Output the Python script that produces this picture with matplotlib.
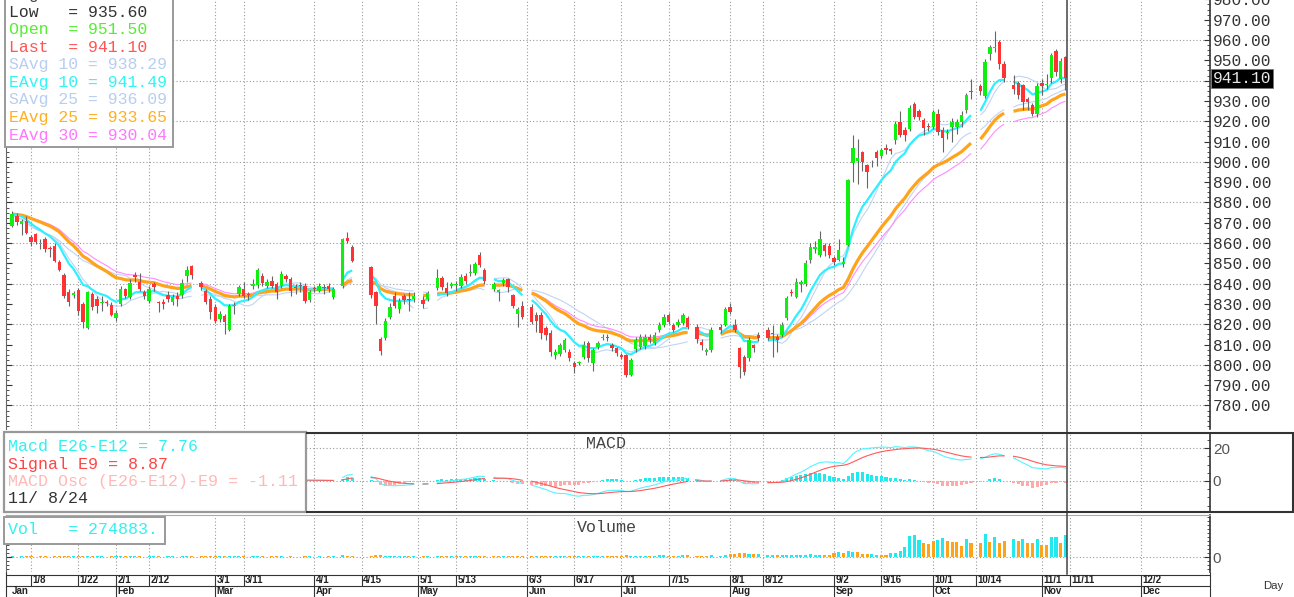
import matplotlib
matplotlib.use("Agg")
import matplotlib.pyplot as plt
import matplotlib.transforms as mtrans
from matplotlib.patches import Rectangle
from matplotlib.ticker import MultipleLocator, FixedLocator
import numpy as np
import pandas as pd

plt.rcParams["font.family"] = ["Liberation Mono", "DejaVu Sans Mono"]

# Daily bars, one slot per weekday starting Tue 2 Jan 2024 (None = no bar drawn)
opens = [
    868.5, 873.4, 869.3, 871.0, 862.8, 864.4, 859.5, 862.0, 857.3, 858.7,
    850.5, 844.4, 835.7, 834.5, 836.9, 830.0, 818.0, 834.9, 832.4, 830.5,
    830.8, 829.5, 823.0, 830.0, 837.4, 833.3, 844.4, 840.7, 835.7, 831.6,
    839.7, 831.0, 831.0, 834.4, 830.8, 834.1, 834.4, 843.9, 848.5, None,
    840.3, 836.6, 832.4, 828.3, 822.5, 824.3, 817.0, 829.0, 835.0, 837.4,
    835.0, 838.7, 839.3, 843.9, 839.0, 841.5, 839.8, 839.0, 843.9, 842.3,
    838.0, 839.3, 839.0, 832.0, 837.7, 836.6, 838.2, 839.0, 833.3, None,
    839.0, 862.3, 857.9, None, None, None, 848.0, 835.7, 812.8, 813.1,
    823.4, 834.1, 827.5, 834.1, 832.5, 832.4, None, 832.1, 832.4, None,
    837.7, 842.6, 837.7, 839.0, 839.3, 839.0, 843.9, 845.3, 845.3, 854.3,
    846.9, None, 837.4, 836.0, 840.5, 842.3, 834.4, 825.1, 829.2, None,
    828.5, 824.5, 824.5, 818.0, 815.5, 804.8, 805.3, 807.3, 806.5, 800.7,
    800.7, 804.0, 810.6, 801.0, 809.0, 813.0, 813.6, 809.8, 808.1, 804.8,
    804.8, 795.0, 808.0, 809.0, 809.3, 813.9, 810.6, 817.1, 819.6, 824.5,
    819.6, 819.6, 820.4, 822.9, None, 818.8, 811.4, 806.5, 807.3, None,
    818.8, 819.6, 828.6, 819.6, 808.1, 804.0, 803.2, 809.8, 814.7, None,
    817.1, 815.6, 813.9, 814.7, 822.9, 836.0, 833.6, 839.6, 840.0, 851.6,
    856.9, 854.0, 859.0, 858.5, 852.4, 851.6, 849.5, 859.0, 899.2, 900.4,
    904.7, 898.4, 899.2, 904.7, 903.0, 907.0, 906.3, 910.7, 919.8, 915.7,
    916.2, 928.3, 925.0, 920.6, 917.5, 917.3, 923.4, 915.7, 914.0, 917.3,
    917.3, 919.8, 925.5, 935.0, None, 937.3, 932.6, 952.9, 956.3, 959.0,
    948.0, None, 937.8, 938.6, 937.8, 931.0, 928.0, 923.4, 939.0, 938.0,
    941.1, 954.6, 940.8, 951.5,
]
highs = [
    876.0, 874.8, 872.0, 873.4, 864.0, 865.0, 862.0, 863.0, 858.7, 860.0,
    851.5, 845.0, 837.4, 836.5, 838.0, 831.0, 836.5, 836.0, 834.0, 834.0,
    832.0, 831.0, 827.0, 839.0, 838.0, 842.3, 845.6, 845.3, 837.0, 839.0,
    841.0, 831.5, 832.4, 836.5, 835.0, 835.7, 842.3, 848.5, 849.2, None,
    841.5, 837.4, 834.0, 830.0, 826.7, 825.0, 830.0, 831.0, 839.3, 840.7,
    836.0, 842.3, 847.5, 845.0, 842.3, 843.9, 841.0, 846.0, 844.7, 843.1,
    840.0, 841.0, 840.3, 837.0, 839.0, 840.3, 839.8, 840.3, 838.5, None,
    862.5, 865.2, 859.0, None, None, None, 848.5, 836.5, 813.5, 823.0,
    830.5, 835.7, 833.0, 835.0, 835.7, 835.7, None, 834.1, 836.6, None,
    847.2, 843.9, 840.7, 841.0, 841.5, 844.7, 845.3, 849.7, 850.5, 855.4,
    847.5, None, 840.7, 837.5, 843.0, 843.0, 835.0, 828.5, 831.6, None,
    830.0, 826.0, 826.0, 819.0, 817.0, 808.0, 811.0, 813.0, 808.0, 802.0,
    802.0, 811.5, 811.5, 808.5, 811.5, 815.0, 815.0, 811.0, 809.0, 806.0,
    805.5, 803.5, 813.5, 815.0, 815.0, 815.0, 816.0, 821.0, 825.0, 825.5,
    820.5, 822.5, 825.5, 824.0, None, 820.0, 812.5, 808.5, 818.5, None,
    820.0, 828.5, 830.5, 822.5, 809.0, 805.0, 813.5, 810.5, 816.0, None,
    818.5, 819.6, 815.0, 821.0, 834.0, 837.5, 843.0, 842.0, 851.5, 860.0,
    861.0, 866.0, 860.0, 860.0, 853.5, 862.0, 853.0, 891.5, 913.0, 911.0,
    905.5, 899.0, 901.0, 906.0, 907.0, 909.0, 907.0, 920.0, 925.0, 917.0,
    928.0, 929.5, 926.0, 921.5, 919.0, 925.5, 926.0, 917.0, 916.0, 921.5,
    921.0, 925.0, 934.0, 941.0, None, 938.5, 950.5, 957.5, 964.5, 960.0,
    949.5, None, 943.0, 940.0, 938.5, 932.0, 929.0, 938.7, 941.0, 943.5,
    953.5, 955.5, 951.0, 952.0,
]
lows = [
    867.7, 869.0, 864.0, 864.5, 858.7, 859.5, 857.0, 855.5, 853.0, 850.5,
    846.0, 833.0, 829.0, 833.0, 824.5, 818.0, 817.5, 827.0, 825.5, 826.5,
    829.0, 824.0, 821.8, 829.0, 833.0, 832.5, 841.0, 836.5, 832.5, 830.5,
    836.5, 826.0, 827.5, 831.0, 829.5, 829.0, 833.0, 841.0, 842.3, None,
    837.0, 830.0, 822.5, 820.5, 821.0, 815.0, 816.5, 825.0, 834.0, 833.0,
    832.0, 837.5, 838.0, 839.0, 838.0, 838.0, 832.5, 838.0, 841.0, 834.0,
    835.0, 836.0, 830.5, 831.0, 835.7, 835.7, 835.0, 836.0, 832.5, None,
    838.0, 860.0, 850.8, None, None, None, 833.0, 820.0, 805.0, 812.0,
    822.5, 828.0, 825.5, 830.0, 826.7, 831.0, None, 828.0, 831.5, None,
    837.0, 837.0, 834.0, 838.0, 836.5, 838.0, 840.0, 843.9, 844.4, 848.0,
    839.8, None, 836.6, 831.6, 839.0, 836.0, 828.0, 818.5, 822.5, None,
    820.0, 816.0, 812.5, 812.2, 804.5, 803.0, 804.5, 806.5, 802.0, 796.1,
    800.0, 803.0, 801.5, 797.0, 808.0, 812.0, 811.5, 807.0, 804.5, 803.0,
    794.0, 794.5, 806.5, 808.0, 808.0, 811.0, 810.0, 816.0, 818.5, 820.0,
    816.0, 818.5, 819.5, 817.5, None, 811.0, 807.5, 805.0, 806.5, None,
    815.5, 819.0, 825.0, 816.0, 793.5, 795.0, 802.0, 806.5, 811.5, None,
    812.0, 804.0, 806.5, 813.5, 822.0, 834.0, 833.0, 836.0, 839.0, 850.0,
    855.0, 853.0, 853.5, 852.5, 849.0, 851.0, 848.0, 858.5, 890.0, 889.0,
    895.5, 887.0, 897.5, 898.0, 902.0, 904.0, 904.0, 909.0, 912.0, 910.5,
    915.0, 921.0, 920.5, 913.0, 915.0, 916.0, 913.0, 905.0, 911.0, 910.0,
    913.5, 917.0, 924.0, 931.0, None, 933.0, 931.5, 950.0, 954.0, 945.5,
    939.5, None, 933.5, 931.0, 925.5, 925.5, 922.5, 922.0, 933.0, 936.0,
    939.0, 942.5, 939.0, 935.6,
]
closes = [
    874.3, 870.2, 871.0, 865.0, 860.3, 860.3, 860.0, 857.0, 857.0, 851.3,
    846.9, 834.1, 831.1, 835.2, 826.7, 821.0, 835.7, 828.7, 828.9, 831.2,
    830.5, 824.6, 825.6, 837.4, 834.1, 840.3, 843.1, 837.4, 834.1, 837.4,
    838.2, 830.5, 830.0, 832.4, 833.3, 832.4, 840.3, 846.9, 844.2, None,
    838.2, 830.8, 825.9, 821.8, 825.0, 821.0, 829.2, 829.5, 838.2, 834.1,
    834.4, 839.8, 846.9, 840.3, 841.0, 839.0, 835.7, 844.7, 842.3, 836.6,
    837.7, 839.0, 831.6, 835.7, 837.4, 839.0, 838.0, 837.4, 837.4, None,
    862.0, 861.1, 851.3, None, None, None, 834.4, 829.2, 806.6, 821.8,
    828.3, 829.2, 831.6, 832.1, 832.0, 834.1, None, 830.0, 835.2, None,
    842.6, 838.2, 835.2, 839.8, 839.6, 843.1, 841.5, 845.5, 849.7, 849.2,
    841.5, None, 839.8, 837.0, 841.8, 838.5, 828.9, 827.5, 823.6, None,
    821.0, 821.8, 815.5, 814.5, 806.5, 806.5, 809.8, 812.2, 803.2, 799.0,
    801.2, 809.8, 803.2, 807.3, 810.6, 813.9, 813.4, 808.1, 805.6, 804.0,
    795.0, 802.4, 812.0, 813.5, 813.5, 812.2, 814.7, 819.6, 823.4, 821.3,
    817.1, 821.3, 824.5, 818.5, None, 812.5, 809.8, 807.3, 817.1, None,
    817.1, 827.3, 826.2, 817.1, 799.1, 796.6, 812.2, 808.1, 813.0, None,
    813.0, 815.4, 812.2, 819.6, 832.7, 835.2, 841.0, 841.0, 850.2, 858.2,
    858.2, 861.8, 856.1, 854.1, 850.5, 856.6, 850.8, 891.0, 907.0, 902.0,
    900.1, 894.8, 899.5, 902.0, 905.8, 905.8, 905.3, 918.5, 913.2, 913.2,
    926.7, 922.2, 922.2, 916.5, 917.2, 924.7, 914.5, 911.6, 914.8, 919.8,
    919.8, 923.0, 932.9, 934.2, None, 934.9, 949.0, 956.7, 956.7, 948.0,
    941.1, None, 935.8, 932.9, 929.3, 929.3, 923.4, 937.5, 937.3, 938.5,
    952.6, 944.4, 949.7, 941.1,
]
volumes = [
    11000, 9000, 10000, 12000, 10000, 9000, 11000, 10000, 9000, 12000,
    11000, 14000, 12000, 10000, 13000, 15000, 16000, 12000, 11000, 10000,
    9000, 12000, 11000, 13000, 10000, 12000, 11000, 10000, 9000, 11000,
    10000, 12000, 9000, 10000, 11000, 9000, 13000, 14000, 12000, None,
    11000, 12000, 13000, 14000, 10000, 12000, 15000, 11000, 13000, 10000,
    9000, 11000, 12000, 10000, 9000, 10000, 11000, 12000, 9000, 11000,
    9000, 8000, 12000, 10000, 9000, 10000, 9000, 10000, 11000, None,
    26000, 20000, 18000, None, None, None, 22000, 25000, 28000, 20000,
    18000, 15000, 14000, 12000, 13000, 12000, None, 11000, 12000, None,
    15000, 13000, 12000, 11000, 10000, 13000, 12000, 14000, 15000, 16000,
    17000, None, 14000, 13000, 12000, 15000, 13000, 16000, 18000, None,
    17000, 15000, 18000, 16000, 20000, 17000, 15000, 16000, 19000, 18000,
    16000, 17000, 19000, 20000, 16000, 15000, 14000, 17000, 18000, 20000,
    24000, 22000, 18000, 20000, 21000, 19000, 22000, 24000, 23000, 21000,
    22000, 20000, 23000, 24000, None, 22000, 21000, 19000, 25000, None,
    22000, 26000, 38000, 45000, 52000, 48000, 44000, 40000, 35000, None,
    30000, 33000, 29000, 31000, 34000, 30000, 32000, 28000, 33000, 35000,
    30000, 34000, 31000, 29000, 55000, 60000, 52000, 72000, 68000, 62000,
    40000, 38000, 36000, 34000, 28000, 28000, 49000, 57000, 78000, 131000,
    263000, 275000, 213000, 180000, 160000, 201000, 213000, 234000, 201000, 192000,
    185000, 139000, 222000, 173000, None, 173000, 287000, 185000, 247000, 180000,
    201000, None, 222000, 205000, 222000, 180000, 173000, 222000, 152000, 152000,
    247000, 247000, 173000, 274883,
]
# colour of the last volume bars (c = cyan, o = orange)
vol_tail_colors = "ooccccccc" "ooocc" "ooooco" "ococoo" "cocooc" "ooccoc"

tick_labels = ["1/8", "1/22", "2/1", "2/12", "3/1", "3/11", "4/1", "4/15", "5/1", "5/13",
               "6/3", "6/17", "7/1", "7/15", "8/1", "8/12", "9/2", "9/16", "10/1", "10/14",
               "11/1", "11/11", "12/2"]
month_labels = ["Jan", "Feb", "Mar", "Apr", "May", "Jun", "Jul", "Aug", "Sep", "Oct", "Nov", "Dec"]
month_starts = ["1/2", "2/1", "3/1", "4/1", "5/1", "6/3", "7/1", "8/1", "9/2", "10/1", "11/1", "12/2"]

readout = [("High  = 952.00", "#444444"), ("Low   = 935.60", "#333333"),
           ("Open  = 951.50", "#55ee33"), ("Last  = 941.10", "#ff5555"),
           ("SAvg 10 = 938.29", "#b8cef0"), ("EAvg 10 = 941.49", "#33f4f4"),
           ("SAvg 25 = 936.09", "#b8cef0"), ("EAvg 25 = 933.65", "#ffb020"),
           ("EAvg 30 = 930.04", "#ff77ff")]
macd_readout = [("Macd E26-E12 = 7.76", "#33f0f0"), ("Signal E9 = 8.87", "#ff4444"),
                ("MACD Osc (E26-E12)-E9 = -1.11", "#ffb8b8"), ("11/ 8/24", "#333333")]
vol_readout = "Vol   = 274883."

# ---------------------------------------------------------------------------
wk = pd.bdate_range("2024-01-01", "2024-12-31")
def slot(md):
    return wk.get_loc(pd.Timestamp(f"{md}/2024"))

idx = np.arange(1, len(closes) + 1)
df = pd.DataFrame({"o": opens, "h": highs, "l": lows, "c": closes, "v": volumes},
                  index=idx, dtype=float)
tr = df.dropna()
c = tr["c"]
mas = {
    "s10": c.rolling(10, min_periods=1).mean(),
    "s25": c.rolling(25, min_periods=1).mean(),
    "e10": c.ewm(span=10, adjust=False).mean(),
    "e25": c.ewm(span=25, adjust=False).mean(),
    "e30": c.ewm(span=30, adjust=False).mean(),
}
macd = c.ewm(span=12, adjust=False).mean() - c.ewm(span=26, adjust=False).mean()
signal = macd.ewm(span=9, adjust=False).mean()
osc = macd - signal

W, H = 1294, 597
fig = plt.figure(figsize=(W / 100, H / 100), dpi=100, facecolor="white")

def box(x0, y0, x1, y1):
    return [x0 / W, 1 - y1 / H, (x1 - x0) / W, (y1 - y0) / H]

xl = ((6 - 7.38) / 4.7236, (1210 - 7.38) / 4.7236)
ax = fig.add_axes(box(6, -0.6, 1210, 429))
axm = fig.add_axes(box(6, 433, 1210, 512))
axv = fig.add_axes(box(6, 515, 1210, 572))

grid_kw = dict(color="#999999", lw=0.8, ls=(0, (1, 2)), zorder=0)
tick_x = [slot(t) for t in tick_labels]
for a in (ax, axm, axv):
    a.set_xlim(*xl)
    a.set_xticks([])
    for s in ("top", "bottom"):
        a.spines[s].set_visible(False)
    a.spines["right"].set_color("#333333")
    a.spines["right"].set_linewidth(1.2)
    a.spines["left"].set_color("#666666")
    for x in tick_x:
        a.axvline(x, **grid_kw)
    a.tick_params(axis="y", which="both", direction="in", left=True, right=True,
                  labelleft=False, labelright=True, colors="#333333", pad=2)
    a.tick_params(axis="y", which="major", length=4)
    a.tick_params(axis="y", which="minor", length=2.5)

# ---- price panel ----
ax.set_ylim(768.4, 980.0)
for y in range(780, 980, 20):
    ax.axhline(y, **grid_kw)
ax.yaxis.set_major_locator(FixedLocator(np.arange(780, 981, 10)))
ax.yaxis.set_minor_locator(MultipleLocator(2.5))
ax.yaxis.set_major_formatter(lambda v, p: "" if abs(v - 940) < 0.1 else f"{v:.2f}")
for t in ax.get_yticklabels():
    t.set_fontsize(11.7)

styles = [("s25", "#c0d4f4", 0.8), ("s10", "#c0d4f4", 0.8), ("e30", "#ff8cff", 0.8),
          ("e25", "#ffa31a", 2.3), ("e10", "#2ef0ff", 1.6)]
for key, col, lw in styles:
    ax.plot(idx, mas[key].reindex(idx), color=col, lw=lw, zorder=2, solid_capstyle="butt")

up = tr["c"] >= tr["o"]
ax.vlines(tr.index, tr["l"], tr["h"], color="#666666", lw=0.8, zorder=3)
body = (tr["c"] - tr["o"]).abs().clip(lower=0.4)
ax.bar(tr.index, body, bottom=tr[["o", "c"]].min(axis=1), width=0.72,
       color=np.where(up, "#11ee11", "#ff3333"), zorder=4)

ax.text(1 + 2.5 / 1204, tr["c"].iloc[-1], f"{tr['c'].iloc[-1]:.2f}",
        transform=mtrans.blended_transform_factory(ax.transAxes, ax.transData),
        color="#e8e8e8", fontsize=11.7, va="center", ha="left", clip_on=False, zorder=10,
        bbox=dict(boxstyle="square,pad=0.12", fc="black", ec="#777777", lw=0.6))

# ---- MACD panel ----
axm.set_ylim(-18.8, 29.1)
for y in (0, 20):
    axm.axhline(y, **grid_kw)
axm.bar(osc.index, osc, width=0.65, color=np.where(osc >= 0, "#22e8f0", "#ffaaaa"), zorder=2)
axm.plot(idx, macd.reindex(idx), color="#55f4ff", lw=0.8, zorder=3)
axm.plot(idx, signal.reindex(idx), color="#ff5a5a", lw=0.8, zorder=3)
axm.yaxis.set_major_locator(FixedLocator([0, 20]))
axm.yaxis.set_minor_locator(MultipleLocator(5))
for t in axm.get_yticklabels():
    t.set_fontfamily("Liberation Sans")
    t.set_fontsize(11)
    t.set_color("#555555")

# ---- volume panel ----
axv.set_ylim(-181000, 521000)
axv.axhline(0, **grid_kw)
vcol = np.where(tr["c"].diff().fillna(0) >= 0, "#22e8f0", "#ffa31a").astype(object)
tail = [("#22e8f0" if ch == "c" else "#ffa31a") for ch in vol_tail_colors]
vcol[-len(tail):] = tail
axv.bar(tr.index, tr["v"], width=0.65, color=list(vcol), zorder=2)
axv.yaxis.set_major_locator(FixedLocator([0]))
axv.yaxis.set_minor_locator(MultipleLocator(50000))
axv.spines["top"].set_visible(True)
axv.spines["top"].set_color("#aaaaaa")
for t in axv.get_yticklabels():
    t.set_fontfamily("Liberation Sans")
    t.set_fontsize(11)
    t.set_color("#555555")

# ---- overlay in pixel coordinates: readouts, frames, date axis ----
ov = fig.add_axes([0, 0, 1, 1])
ov.set_xlim(0, W)
ov.set_ylim(H, 0)
ov.axis("off")

def px(i):
    return 7.38 + 4.7236 * i

ov.plot([px(224.3)] * 2, [0, 574], color="#444444", lw=1.1)

ov.add_patch(Rectangle((5, -12), 168, 159, fc="white", ec="#999999", lw=1.4))
for k, (s, col) in enumerate(readout):
    ov.text(9, -5.2 + 17.53 * k, s, color=col, fontsize=11.9, va="center", ha="left")

ov.add_patch(Rectangle((3.5, 432), 302.5, 80, fc="white", ec="#999999", lw=1.6))
for k, (s, col) in enumerate(macd_readout):
    ov.text(8.3, 446.7 + 17.4 * k, s, color=col, fontsize=12, va="center", ha="left")
for xs, ys in (([306, 1293], [432.8, 432.8]), ([306, 1293], [512, 512]),
               ([1292.5, 1292.5], [432, 512.5])):
    ov.plot(xs, ys, color="#333333", lw=1.5, solid_capstyle="butt")
ov.text(606, 443, "MACD", color="#444444", fontsize=12, ha="center", va="center")

ov.add_patch(Rectangle((3.5, 516.5), 161.5, 27, fc="white", ec="#999999", lw=1.4))
ov.text(8.3, 530, vol_readout, color="#33f0f0", fontsize=12, va="center", ha="left")
ov.text(607, 527, "Volume", color="#444444", fontsize=12, ha="center", va="center")

line_kw = dict(color="#333333", lw=0.8, solid_capstyle="butt")
ov.plot([6, 1210], [574.5, 574.5], **line_kw)
ov.plot([6, 1210], [585.5, 585.5], **line_kw)
ov.plot([6, 6], [572, 597], **line_kw)
ov.plot([1210, 1210], [572, 597], **line_kw)
for lab, x in zip(tick_labels, tick_x):
    ov.plot([px(x)] * 2, [574.5, 585.5], **line_kw)
    ov.text(px(x) + 1.5, 580.3, lab, fontsize=7.0, weight="bold", family="Liberation Sans",
            color="#222222", va="center", ha="left")
for k, (lab, md) in enumerate(zip(month_labels, month_starts)):
    x = px(slot(md))
    if k > 0:
        ov.plot([x, x], [585.5, 597], **line_kw)
    ov.text(x + 1.5 if k > 0 else 12, 591.3, lab, fontsize=7.0, weight="bold",
            family="Liberation Sans", color="#222222", va="center", ha="left")
ov.text(1273, 586, "Day", fontsize=8.2, family="Liberation Sans", color="#333333",
        ha="center", va="center")

fig.savefig("out.png", dpi=100, facecolor="white")
